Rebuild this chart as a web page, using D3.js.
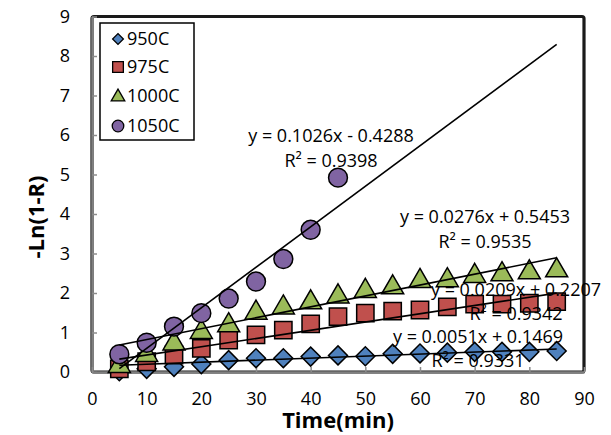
<!DOCTYPE html>
<html>
<head>
<meta charset="utf-8">
<script src="https://cdn.jsdelivr.net/npm/d3@7"></script>
<style>
  html, body { margin: 0; padding: 0; background: #fff; }
  svg { display: block; font-family: "Open Sans", "Liberation Sans", sans-serif; }
</style>
</head>
<body>
<svg id="chart" width="611" height="435"></svg>
<script>
// Sampling times (min) and -ln(1-R) values for each temperature
const times = [5, 10, 15, 20, 25, 30, 35, 40, 45, 50, 55, 60, 65, 70, 75, 80, 85];
const times1050 = [5, 10, 15, 20, 25, 30, 35, 40, 45];
const v950  = [0.02, 0.08, 0.13, 0.20, 0.30, 0.35, 0.35, 0.39, 0.42, 0.40, 0.46, 0.47, 0.49, 0.51, 0.51, 0.51, 0.53];
const v975  = [0.08, 0.26, 0.43, 0.60, 0.81, 0.94, 1.06, 1.22, 1.40, 1.49, 1.54, 1.57, 1.65, 1.72, 1.72, 1.74, 1.78];
const v1000 = [0.20, 0.48, 0.77, 1.06, 1.23, 1.55, 1.68, 1.81, 1.96, 2.10, 2.19, 2.35, 2.37, 2.48, 2.52, 2.57, 2.62];
const v1050 = [0.45, 0.74, 1.15, 1.49, 1.86, 2.29, 2.86, 3.60, 4.92];

const seriesNames = ["950C", "975C", "1000C", "1050C"];
// Linear fits: slope, intercept, R²
const slopes     = [0.0051, 0.0209, 0.0276, 0.1026];
const intercepts = [0.1469, 0.2207, 0.5453, -0.4288];
const r2s        = ["0.9331", "0.9342", "0.9535", "0.9398"];
const fitRange   = [5, 85];

const xTicks = [0, 10, 20, 30, 40, 50, 60, 70, 80, 90];
const yTicks = [0, 1, 2, 3, 4, 5, 6, 7, 8, 9];

const svg = d3.select("#chart");
const x = d3.scaleLinear().domain([0, 90]).range([92, 584]);
const y = d3.scaleLinear().domain([0, 9]).range([372, 16.5]);

const colors = ["#4F81BD", "#C0504D", "#9BBB59", "#8064A2"];
// The diamond is a square turned by 45 degrees
const shapes = [d3.symbolSquare, d3.symbolSquare, d3.symbolTriangle, d3.symbolCircle];
const rotations = [45, 0, 0, 0];
const sizes  = [180, 300, 210, 280];
const legendSizes = [58, 115, 80, 105];

// Plot area frame
svg.append("rect")
  .attr("x", x(0)).attr("y", y(9))
  .attr("width", x(90) - x(0)).attr("height", y(0) - y(9))
  .attr("rx", 2)
  .attr("fill", "#fff").attr("stroke", "#1a1a1a").attr("stroke-width", 3.2);

// Axes
const yAxis = d3.axisLeft(y).tickValues(yTicks).tickSizeInner(-5).tickSizeOuter(0).tickPadding(22);
const xAxis = d3.axisBottom(x).tickValues(xTicks).tickSizeInner(-5).tickSizeOuter(0).tickPadding(23);

const gy = svg.append("g").attr("transform", `translate(${x(0)},0)`).call(yAxis);
const gx = svg.append("g").attr("transform", `translate(0,${y(0)})`).call(xAxis);
[gy, gx].forEach(g => {
  g.select(".domain").attr("stroke", "#808080").attr("stroke-width", 2.5);
  g.selectAll(".tick line").attr("stroke", "#8c8c8c").attr("stroke-width", 1.5);
  g.selectAll(".tick text")
    .attr("fill", "#000")
    .style("font-family", '"Open Sans", sans-serif')
    .style("font-size", "18px");
});
gx.selectAll(".tick text").attr("dy", "0.55em");

// Axis titles
svg.append("text")
  .attr("x", 338).attr("y", 428)
  .attr("text-anchor", "middle")
  .style("font-size", "22px").style("font-weight", "bold")
  .text("Time(min)");

svg.append("text")
  .attr("transform", "translate(44,217) rotate(-90)")
  .attr("text-anchor", "middle")
  .style("font-size", "22px").style("font-weight", "bold")
  .text("-Ln(1-R)");

// Markers
const seriesData = [
  times.map((t, i) => [t, v950[i]]),
  times.map((t, i) => [t, v975[i]]),
  times.map((t, i) => [t, v1000[i]]),
  times1050.map((t, i) => [t, v1050[i]])
];

seriesData.forEach((pts, s) => {
  const sym = d3.symbol().type(shapes[s]).size(sizes[s]);
  svg.append("g").selectAll("path")
    .data(pts).join("path")
    .attr("d", sym)
    .attr("transform", d => {
      const dy = s === 2 ? 2 : 0;
      return `translate(${x(d[0])},${y(d[1]) + dy}) rotate(${rotations[s]})`;
    })
    .attr("fill", colors[s])
    .attr("stroke", "#000").attr("stroke-width", 1.5);
});

// Trendlines
const line = d3.line().x(d => x(d[0])).y(d => y(d[1]));
slopes.forEach((m, s) => {
  const pts = fitRange.map(t => [t, m * t + intercepts[s]]);
  svg.append("path")
    .attr("d", line(pts))
    .attr("fill", "none").attr("stroke", "#000").attr("stroke-width", 1.6);
});

// Trendline equation labels
const fmtEq = (m, b) => `y = ${m}x ${b < 0 ? "-" : "+"} ${Math.abs(b)}`;
const labelPos = [
  { x: 478, y1: 343, y2: 367 },
  { x: 516, y1: 296, y2: 320 },
  { x: 485, y1: 223, y2: 248 },
  { x: 331, y1: 142, y2: 167 }
];
labelPos.forEach((p, s) => {
  svg.append("text")
    .attr("x", p.x).attr("y", p.y1).attr("text-anchor", "middle")
    .style("font-size", "18px")
    .text(fmtEq(slopes[s], intercepts[s]));
  svg.append("text")
    .attr("x", p.x).attr("y", p.y2).attr("text-anchor", "middle")
    .style("font-size", "18px")
    .text(`R² = ${r2s[s]}`);
});

// Legend
const lg = svg.append("g");
lg.append("rect")
  .attr("x", 100).attr("y", 23).attr("width", 94).attr("height", 117)
  .attr("fill", "#fff").attr("stroke", "#000").attr("stroke-width", 1.5);
const legendY = [39, 67, 96, 126];
seriesNames.forEach((name, s) => {
  lg.append("path")
    .attr("d", d3.symbol().type(shapes[s]).size(legendSizes[s]))
    .attr("transform", `translate(118,${legendY[s] + (s === 2 ? 1 : 0)}) rotate(${rotations[s]})`)
    .attr("fill", colors[s]).attr("stroke", "#000").attr("stroke-width", 1.3);
  lg.append("text")
    .attr("x", 127).attr("y", legendY[s]).attr("dy", "0.36em")
    .style("font-size", "18px")
    .text(name);
});
</script>
</body>
</html>
